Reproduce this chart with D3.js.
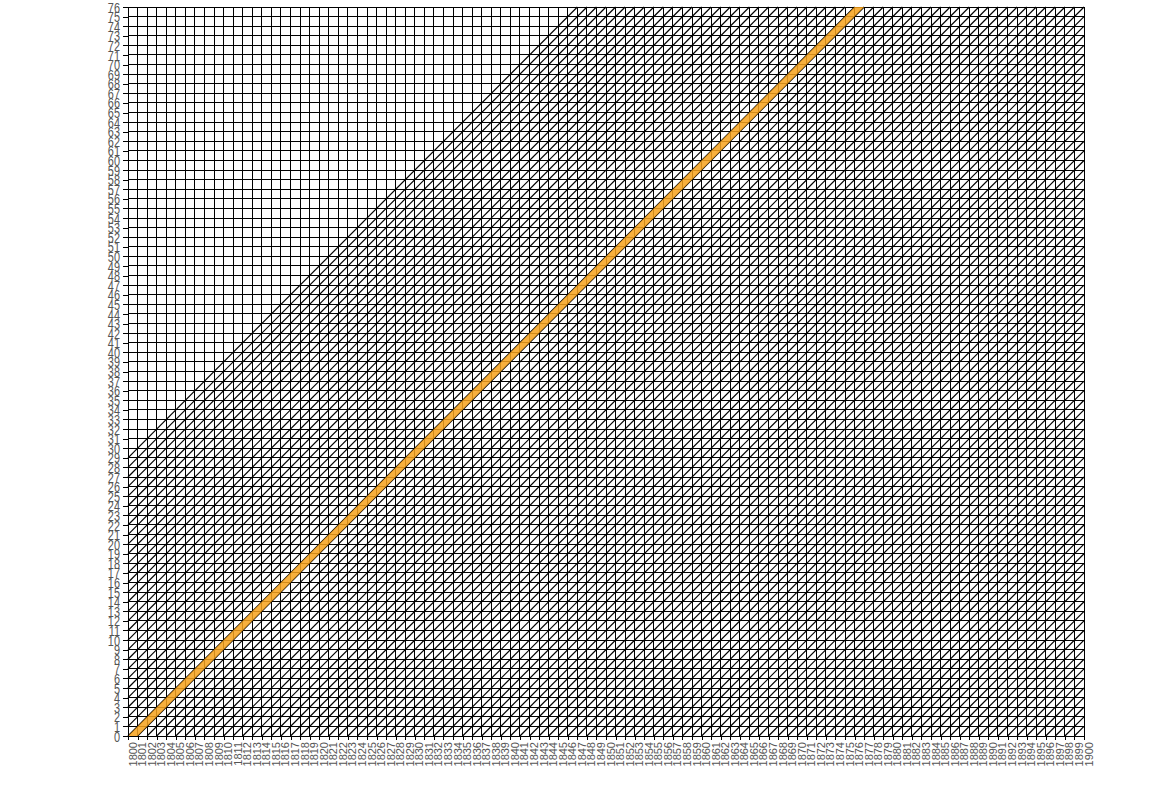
<!DOCTYPE html>
<html>
<head>
<meta charset="utf-8">
<script src="https://cdn.jsdelivr.net/npm/d3@7"></script>
<style>
  html, body { margin: 0; padding: 0; background: #fff; }
  text { font-family: "Liberation Sans", Arial, sans-serif; }
</style>
</head>
<body>
<svg id="chart" width="1172" height="796"></svg>
<script>
// ---- data ----
const yearStart = 1800, yearEnd = 1900;
const ageStart = 0, ageEnd = 76;
const years = d3.range(yearStart, yearEnd + 1);        // x tick labels
const ages = d3.range(ageStart, ageEnd + 1);           // y tick labels
const firstGridCohort = 1771;                          // first cohort with diagonal drawn
const cohorts = d3.range(firstGridCohort, yearEnd);    // diagonal lifelines
const highlightCohort = [1800];                        // highlighted cohort
const highlightColor = "#f7a21b";

// ---- scales ----
const svg = d3.select("#chart");
const x = d3.scaleLinear().domain([yearStart, yearEnd]).range([128, 1084]);
const y = d3.scaleLinear().domain([ageStart, ageEnd]).range([736, 7]);

const grid = svg.append("g").attr("stroke", "#000").attr("fill", "none");

// vertical lines
grid.append("g").attr("shape-rendering", "crispEdges").selectAll("line").data(years).join("line")
  .attr("x1", d => x(d)).attr("x2", d => x(d))
  .attr("y1", y(ageStart)).attr("y2", y(ageEnd))
  .attr("stroke-width", 1);

// horizontal lines
grid.append("g").attr("shape-rendering", "crispEdges").selectAll("line").data(ages).join("line")
  .attr("x1", x(yearStart)).attr("x2", x(yearEnd))
  .attr("y1", d => y(d)).attr("y2", d => y(d))
  .attr("stroke-width", 1);

// diagonals (lifelines)
grid.append("g").selectAll("line").data(cohorts).join("line")
  .each(function(c) {
    const a0 = Math.max(ageStart, yearStart - c);
    const a1 = Math.min(ageEnd, yearEnd - c);
    d3.select(this)
      .attr("x1", x(c + a0)).attr("y1", y(a0))
      .attr("x2", x(c + a1)).attr("y2", y(a1));
  })
  .attr("stroke-width", 1.2);

// cohort highlight polygon (over the grid, semi-transparent)
highlightCohort.forEach(c => {
  const pts = [[c, 0], [c + 1, 0], [c + 1 + ageEnd, ageEnd], [c + ageEnd, ageEnd]];
  svg.append("polygon")
    .attr("points", pts.map(p => [x(p[0]), y(p[1])].join(",")).join(" "))
    .attr("fill", highlightColor)
    .attr("fill-opacity", 0.85);
});

// ---- axes ----
const xAxis = d3.axisBottom(x).tickValues(years).tickFormat(d3.format("d")).tickSize(4).tickPadding(2);
const gx = svg.append("g").attr("transform", `translate(0,${y(ageStart)})`).call(xAxis);
gx.select(".domain").remove();
gx.selectAll(".tick line").attr("stroke", "#000").attr("shape-rendering", "crispEdges");
gx.selectAll(".tick text")
  .attr("fill", "#555")
  .attr("font-size", "11px")
  .attr("text-anchor", "end")
  .attr("dy", null)
  .attr("y", null)
  .attr("transform", "translate(8,6) rotate(-90)");

const yAxis = d3.axisLeft(y).tickValues(ages).tickFormat(d3.format("d")).tickSize(5).tickPadding(3);
const gy = svg.append("g").attr("transform", `translate(${x(yearStart)},0)`).call(yAxis);
gy.select(".domain").attr("stroke", "#000").attr("shape-rendering", "crispEdges");
gy.selectAll(".tick line").attr("stroke", "#000").attr("shape-rendering", "crispEdges");
gy.selectAll(".tick text")
  .attr("fill", "#555")
  .attr("font-size", "14px")
  .attr("x", null).attr("dy", "0.36em")
  .attr("transform", "translate(-8,0) scale(0.78,1)");
</script>
</body>
</html>
